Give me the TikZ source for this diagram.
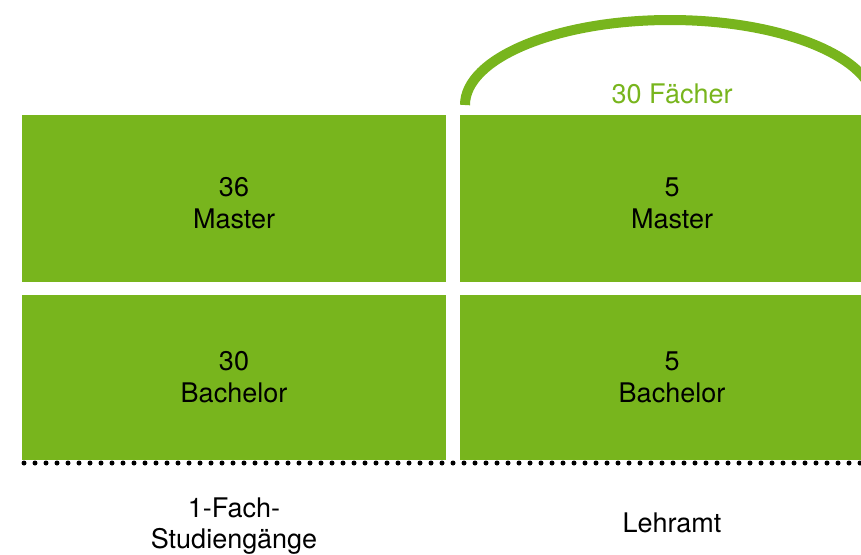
\documentclass[tikz,border=0pt]{standalone}
\usepackage{fontspec}
\setmainfont{TeX Gyre Heros}
\definecolor{gruen}{HTML}{78B51D}
\begin{document}
\begin{tikzpicture}[x=1pt,y=-1pt,
  feld/.style={fill=gruen, draw=none, inner sep=0pt, anchor=north west, minimum width=424pt},
  lbl/.style={font=\fontsize{27}{32}\selectfont, align=center, inner sep=0pt, text=black},
  unten/.style={font=\fontsize{27}{31}\selectfont, align=center, inner sep=0pt, text=black},
  bogen/.style={draw=gruen, line width=10pt},
  punkte/.style={draw=black, line width=5pt, line cap=round, dash pattern=on 0pt off 11pt}]
\useasboundingbox (0,0) rectangle (861,554);
\begin{scope}
\clip (0,0) rectangle (861,554);
\node[feld, minimum height=167pt] (lo) at (22,115) {};
\node[feld, minimum height=165pt] (lu) at (22,295) {};
\node[feld, minimum height=167pt] (ro) at (460,115) {};
\node[feld, minimum height=165pt] (ru) at (460,295) {};
\draw[bogen] (465,105) arc[start angle=180, end angle=360, x radius=205, y radius=85];
\coordinate (pa) at (24,463);
\coordinate (pb) at (880,463);
\draw[punkte] (pa) -- (pb);
\end{scope}
\node[lbl] (tlo) at (234,203) {36\\Master};
\node[lbl] (tro) at (672,203) {5\\Master};
\node[lbl] (tlu) at (234,377) {30\\Bachelor};
\node[lbl] (tru) at (672,377) {5\\Bachelor};
\node[font=\fontsize{27}{32}\selectfont, text=gruen, anchor=base, inner sep=0pt] (faecher) at (672,103) {30 Fächer};
\node[unten] (fach) at (234,526) {1-Fach-\\Studiengänge};
\node[font=\fontsize{27}{32}\selectfont, anchor=base, inner sep=0pt] (lehr) at (672,532) {Lehramt};
\end{tikzpicture}
\end{document}
